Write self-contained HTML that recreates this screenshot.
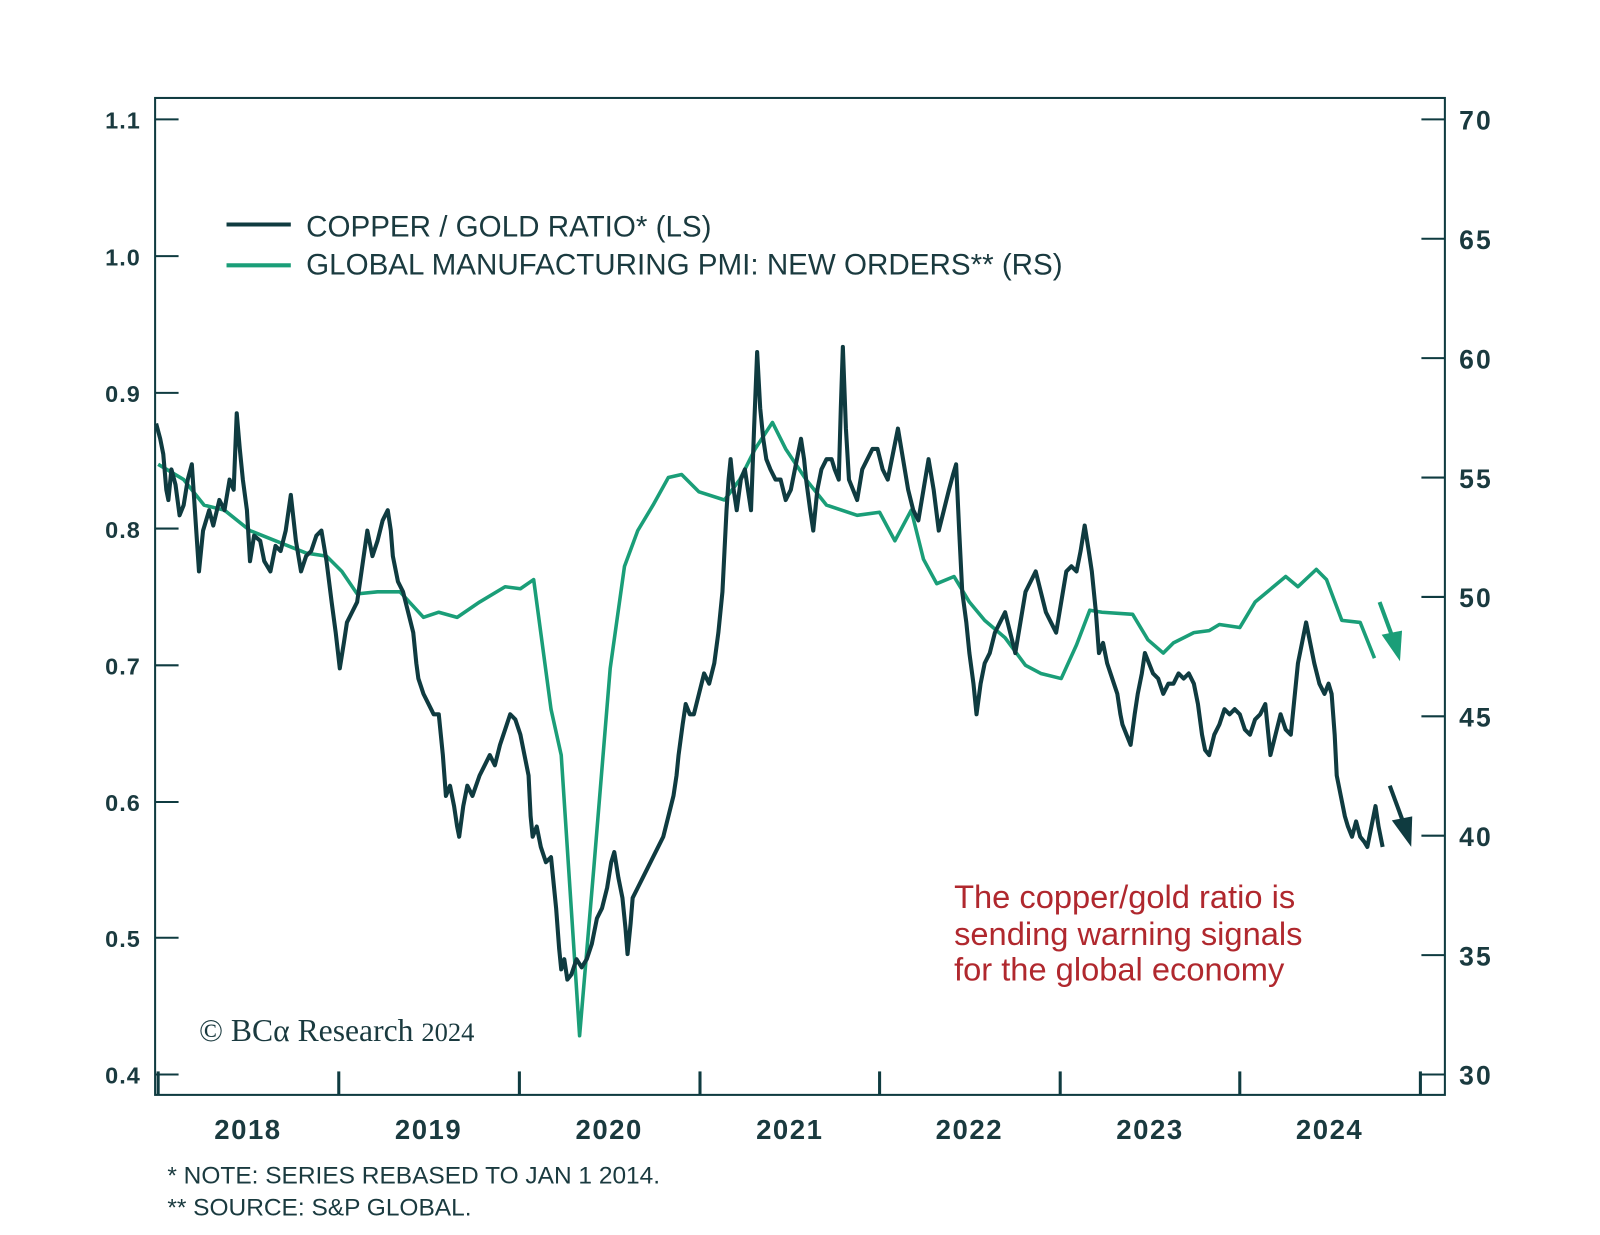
<!DOCTYPE html>
<html><head><meta charset="utf-8"><style>
body{margin:0;background:#fff;}
svg text{font-family:"Liberation Sans",sans-serif;}
</style></head><body>
<svg width="1600" height="1230" viewBox="0 0 1600 1230" xmlns="http://www.w3.org/2000/svg">
<rect width="1600" height="1230" fill="#fff"/>
<g transform="scale(1.0204)">
<rect x="152" y="96" width="1264" height="977" fill="none" stroke="#0f3b40" stroke-width="2"/>
<g stroke="#0f3b40" stroke-width="2">
<line x1="152" y1="117" x2="175" y2="117"/><line x1="152" y1="251" x2="175" y2="251"/><line x1="152" y1="385" x2="175" y2="385"/><line x1="152" y1="518" x2="175" y2="518"/><line x1="152" y1="652" x2="175" y2="652"/><line x1="152" y1="786" x2="175" y2="786"/><line x1="152" y1="919" x2="175" y2="919"/><line x1="152" y1="1053" x2="175" y2="1053"/>
<line x1="1393" y1="117" x2="1416" y2="117"/><line x1="1393" y1="234" x2="1416" y2="234"/><line x1="1393" y1="351" x2="1416" y2="351"/><line x1="1393" y1="468" x2="1416" y2="468"/><line x1="1393" y1="585" x2="1416" y2="585"/><line x1="1393" y1="702" x2="1416" y2="702"/><line x1="1393" y1="819" x2="1416" y2="819"/><line x1="1393" y1="936" x2="1416" y2="936"/><line x1="1393" y1="1053" x2="1416" y2="1053"/>
</g>
<g stroke="#0f3b40" stroke-width="3">
<line x1="155" y1="1050" x2="155" y2="1073"/><line x1="332" y1="1050" x2="332" y2="1073"/><line x1="509" y1="1050" x2="509" y2="1073"/><line x1="686" y1="1050" x2="686" y2="1073"/><line x1="862" y1="1050" x2="862" y2="1073"/><line x1="1039" y1="1050" x2="1039" y2="1073"/><line x1="1215" y1="1050" x2="1215" y2="1073"/><line x1="1392" y1="1050" x2="1392" y2="1073"/>
</g>
<g fill="#1a3a3f" font-size="23" font-weight="bold" text-anchor="end" letter-spacing="1">
<text x="138" y="126">1.1</text><text x="138" y="260">1.0</text><text x="138" y="394">0.9</text><text x="138" y="527">0.8</text><text x="138" y="661">0.7</text><text x="138" y="795">0.6</text><text x="138" y="928">0.5</text><text x="138" y="1062">0.4</text>
</g>
<g fill="#1a3a3f" font-size="26" font-weight="bold" letter-spacing="2">
<text x="1430" y="127">70</text><text x="1430" y="244">65</text><text x="1430" y="361">60</text><text x="1430" y="478">55</text><text x="1430" y="595">50</text><text x="1430" y="712">45</text><text x="1430" y="829">40</text><text x="1430" y="946">35</text><text x="1430" y="1063">30</text>
</g>
<g fill="#1a3a3f" font-size="27" font-weight="bold" text-anchor="middle" letter-spacing="1.5">
<text x="243" y="1116">2018</text><text x="420" y="1116">2019</text><text x="597" y="1116">2020</text><text x="774" y="1116">2021</text><text x="950" y="1116">2022</text><text x="1127" y="1116">2023</text><text x="1303" y="1116">2024</text>
</g>
<g fill="#1a3a3f" font-size="24">
<text x="164" y="1160">* NOTE: SERIES REBASED TO JAN 1 2014.</text>
<text x="164" y="1191">** SOURCE: S&amp;P GLOBAL.</text>
</g>
<line x1="222" y1="220" x2="285" y2="220" stroke="#0f3b40" stroke-width="4"/>
<line x1="222" y1="260" x2="285" y2="260" stroke="#1a9e78" stroke-width="4"/>
<g fill="#1a3a3f" font-size="29">
<text x="300" y="232">COPPER / GOLD RATIO* (LS)</text>
<text x="300" y="269">GLOBAL MANUFACTURING PMI: NEW ORDERS** (RS)</text>
</g>
<text x="195" y="1020" font-size="31" fill="#1a3a3f" style="font-family:'Liberation Serif',serif">© BCα Research <tspan font-size="26">2024</tspan></text>
<g fill="#b0282e" font-size="32">
<text x="935" y="890">The copper/gold ratio is</text>
<text x="935" y="926">sending warning signals</text>
<text x="935" y="961">for the global economy</text>
</g>
<polyline fill="none" stroke="#1a9e78" stroke-width="3.5" stroke-linejoin="round" points="155,455 180,470 200,495 220,500 245,520 270,530 300,542 320,545 335,560 350,582 370,580 392,580 415,605 430,600 448,605 470,590 495,575 510,577 523,568 540,695 550,740 568,1015 582,850 598,655 612,555 625,520 640,495 655,468 668,465 685,482 710,490 725,470 740,440 757,414 770,440 790,470 810,495 840,505 862,502 877,530 893,500 905,548 918,572 935,565 950,590 965,608 985,625 1005,652 1020,660 1040,665 1055,632 1068,598 1080,600 1110,602 1125,627 1140,640 1150,630 1170,620 1185,618 1195,612 1215,615 1230,590 1260,565 1272,575 1290,558 1300,568 1315,608 1333,610 1347,645"/>
<polyline fill="none" stroke="#0f3b40" stroke-width="4" stroke-linejoin="round" points="153,415 157,430 160,445 163,480 165,490 168,460 172,475 176,505 180,495 184,470 188,455 191,500 195,560 199,520 205,500 209,515 215,490 220,500 225,470 229,480 232,405 235,440 238,470 242,500 245,550 249,525 255,530 259,550 265,560 270,535 275,540 280,520 285,485 290,530 295,560 300,545 305,540 310,525 315,520 320,550 325,590 329,620 333,655 337,630 340,610 345,600 350,590 355,555 360,520 365,545 370,530 375,510 380,500 383,520 385,545 390,570 395,580 400,600 405,620 408,650 410,665 415,680 420,690 425,700 430,700 434,740 437,780 441,770 445,790 448,810 450,820 454,790 458,770 463,780 470,760 475,750 480,740 485,750 490,730 495,715 500,700 505,705 510,720 514,740 518,760 520,800 522,820 526,810 530,830 535,845 540,840 543,870 545,890 548,930 550,950 553,940 556,960 560,955 565,940 570,948 575,940 580,925 585,900 590,890 595,870 599,845 602,835 606,860 610,880 613,910 615,935 618,905 620,880 625,870 630,860 635,850 640,840 645,830 650,820 655,800 660,780 663,760 665,740 669,710 672,690 676,700 680,700 685,680 690,660 695,670 700,650 704,620 708,580 710,540 712,500 714,470 716,450 719,480 722,500 726,470 730,460 733,480 736,500 739,420 742,345 745,400 748,430 751,450 755,460 760,470 765,470 770,490 775,480 780,455 785,430 788,450 790,470 794,500 797,520 801,480 805,460 810,450 815,450 818,460 822,470 824,400 826,340 829,420 832,470 836,480 840,490 845,460 850,450 855,440 860,440 865,460 870,470 875,445 880,420 885,450 890,480 895,500 900,510 905,480 910,450 915,480 920,520 925,500 930,480 934,465 937,455 940,520 943,580 947,610 950,640 954,670 957,700 961,670 965,650 970,640 975,620 980,610 985,600 990,620 995,640 1000,610 1005,580 1010,570 1015,560 1020,580 1025,600 1030,610 1035,620 1040,590 1045,560 1050,555 1055,560 1059,540 1063,515 1067,540 1070,560 1074,600 1077,640 1081,630 1085,650 1090,665 1095,680 1098,700 1100,710 1104,720 1108,730 1112,700 1115,680 1119,660 1122,640 1126,650 1130,660 1135,665 1140,680 1145,670 1150,670 1155,660 1160,665 1165,660 1170,670 1174,690 1178,720 1181,735 1185,740 1190,720 1195,710 1200,695 1205,700 1210,695 1215,700 1220,715 1225,720 1230,705 1235,700 1240,690 1245,740 1250,720 1255,700 1260,715 1265,720 1268,690 1272,650 1276,630 1280,610 1284,630 1288,650 1293,670 1298,680 1302,670 1305,680 1308,720 1310,760 1314,780 1318,800 1321,810 1325,820 1329,805 1333,820 1337,825 1340,830 1344,810 1348,790 1351,810 1355,830"/>
<line x1="1352" y1="590" x2="1366" y2="628" stroke="#1a9e78" stroke-width="4"/>
<polygon points="1372,648 1354,622 1374,618" fill="#1a9e78"/>
<line x1="1362" y1="770" x2="1376" y2="808" stroke="#0f3b40" stroke-width="4"/>
<polygon points="1383,830 1364,804 1384,800" fill="#0f3b40"/>
</g>
</svg>
</body></html>
